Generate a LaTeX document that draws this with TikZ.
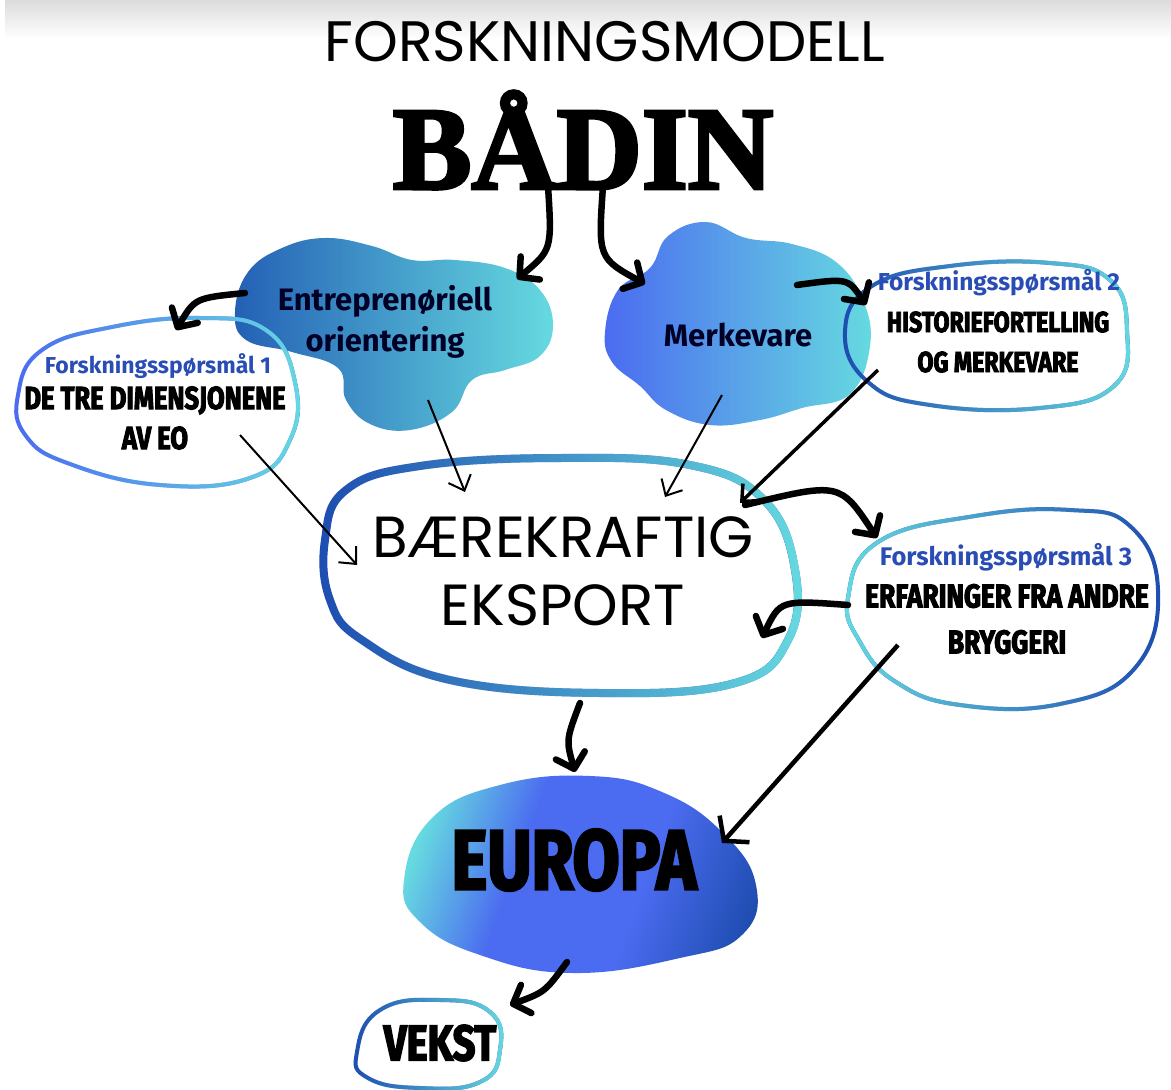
\documentclass[tikz,border=0pt]{standalone}
\usepackage{fontspec}
\setmainfont{Fira Sans}
\newfontfamily\titlefont{Poppins}
\newfontfamily\badinfont[FakeBold=3]{Liberation Serif}
\newfontfamily\heavyfont[FakeBold=3,FakeStretch=0.8]{Fira Sans}
\usetikzlibrary{arrows.meta,fadings}

\definecolor{deepblue}  {HTML}{1E4DB0}
\definecolor{violetblue}{HTML}{4B6BF0}
\definecolor{aqua}      {HTML}{66DAE0}
\definecolor{qblue}     {HTML}{2A4DB5}
\definecolor{cloudblue} {HTML}{2460B5}

\pgfdeclarehorizontalshading{europa shading}{100bp}{
  color(0bp)=(aqua); color(24bp)=(aqua); color(40bp)=(violetblue);
  color(60bp)=(violetblue); color(78bp)=(deepblue); color(100bp)=(deepblue)}

\begin{document}
\begin{tikzpicture}[x=1pt,y=-1pt]
  \useasboundingbox (0,0) rectangle (1171,1090);

  % Styles
  \tikzstyle{title text}=[font=\titlefont\fontsize{57}{60}\selectfont]
  \tikzstyle{badin text}=[font=\badinfont\bfseries\fontsize{118}{120}\selectfont]
  \tikzstyle{cloud text}=[font=\bfseries\fontsize{31}{41}\selectfont,text=black!85!blue,align=center]
  \tikzstyle{question}=[font=\bfseries\fontsize{23}{26}\selectfont,text=qblue]
  \tikzstyle{heavy text}=[font=\heavyfont\bfseries\fontsize{30}{40}\selectfont,align=center]
  \tikzstyle{main text}=[font=\titlefont\fontsize{58}{68}\selectfont,align=center]
  \tikzstyle{outline}=[line width=4pt]
  \tikzstyle{thick arrow}=[line width=6.5pt,line cap=round,-{Straight Barb[round,length=14pt,width=30pt]}]
  \tikzstyle{thin arrow}=[line width=2pt,-{Straight Barb[length=13pt,width=24pt]}]

  % Shapes
  \tikzset{
    eo cloud/.style={insert path={plot[smooth cycle,tension=0.7] coordinates {
      (235,312) (248,272) (282,248) (325,238) (372,246) (412,260) (455,260)
      (505,268) (540,290) (553,325) (540,356) (505,370) (472,380) (452,412)
      (410,430) (370,424) (346,400) (338,368) (292,352) (246,340)}}},
    brand cloud/.style={insert path={plot[smooth cycle,tension=0.7] coordinates {
      (605,332) (618,290) (650,268) (668,236) (706,222) (746,238) (792,244)
      (836,262) (863,300) (870,346) (850,394) (802,408) (760,420) (710,425)
      (666,410) (640,386) (612,362)}}},
    europa blob/.style={insert path={plot[smooth cycle,tension=0.75] coordinates {
      (404,880) (432,818) (500,785) (590,776) (662,792) (722,832) (756,885)
      (742,935) (680,958) (572,973) (480,955) (420,922)}}},
    q1 shape/.style={insert path={plot[smooth cycle,tension=0.75] coordinates {
      (18,395) (42,350) (112,327) (200,318) (266,330) (295,382) (290,440)
      (250,478) (160,485) (70,464) (26,436)}}},
    q2 shape/.style={insert path={plot[smooth cycle,tension=0.75] coordinates {
      (845,332) (872,286) (950,266) (1050,263) (1110,280) (1127,330)
      (1114,386) (1040,408) (930,405) (868,382)}}},
    q3 shape/.style={insert path={plot[smooth cycle,tension=0.75] coordinates {
      (848,598) (878,542) (975,516) (1070,510) (1130,526) (1158,590)
      (1135,668) (1060,704) (960,705) (896,682) (860,642)}}},
    main shape/.style={insert path={plot[smooth cycle,tension=0.7] coordinates {
      (325,540) (346,490) (420,466) (560,458) (690,465) (764,500) (795,570)
      (788,640) (735,683) (600,693) (450,680) (362,640) (330,600)}}},
    vekst shape/.style={insert path={plot[smooth cycle,tension=0.8] coordinates {
      (357,1052) (380,1010) (440,1000) (490,1012) (500,1050) (480,1082)
      (420,1088) (368,1078)}}}
  }

  % Top band
  \shade[top color=black!14,bottom color=white] (5,0) rectangle (1171,38);

  % Filled blobs
  \shade[left color=cloudblue,right color=aqua,eo cloud];
  \shade[left color=violetblue,right color=aqua,brand cloud];
  \shade[shading=europa shading,shading angle=-20,europa blob];

  % Outlines, dark side first then the light side faded in
  \draw[outline,violetblue,q1 shape];
  \draw[outline,aqua,path fading=west,q1 shape];
  \draw[outline,deepblue,q2 shape];
  \draw[outline,aqua,path fading=west,q2 shape];
  \draw[outline,deepblue,q3 shape];
  \draw[outline,aqua,path fading=east,q3 shape];
  \draw[line width=8pt,deepblue,main shape];
  \draw[line width=8pt,aqua,path fading=west,main shape];
  \draw[outline,deepblue,vekst shape];
  \draw[outline,aqua,path fading=west,vekst shape];

  % Texts
  \node[title text] (title) at (605,42) {FORSKNINGSMODELL};
  \node[badin text] (badin) at (583,140) {BÅDIN};
  \node[cloud text] (eo) at (385,322) {Entreprenøriell\\orientering};
  \node[cloud text] (brand) at (738,335) {Merkevare};
  \node[question] (q1 title) at (158,366) {Forskningsspørsmål 1};
  \node[heavy text,font=\heavyfont\bfseries\fontsize{32}{40}\selectfont] (q1) at (155,418) {DE TRE DIMENSJONENE\\AV EO};
  \node[question,font=\bfseries\fontsize{24.5}{26}\selectfont] (q2 title) at (999,283) {Forskningsspørsmål 2};
  \node[heavy text,font=\heavyfont\bfseries\fontsize{29}{40}\selectfont] (q2) at (998,342) {HISTORIEFORTELLING\\OG MERKEVARE};
  \node[question,font=\bfseries\fontsize{25.5}{26}\selectfont] (q3 title) at (1006,557) {Forskningsspørsmål 3};
  \node[heavy text,font=\heavyfont\bfseries\fontsize{33}{46}\selectfont] (q3) at (1007,619) {ERFARINGER FRA ANDRE\\BRYGGERI};
  \node[main text] (export) at (563,571) {BÆREKRAFTIG\\EKSPORT};
  \node[heavy text,font=\heavyfont\bfseries\fontsize{85}{88}\selectfont] (europa) at (574,860) {EUROPA};
  \node[heavy text,font=\heavyfont\bfseries\fontsize{50}{52}\selectfont] (vekst) at (440,1043) {VEKST};

  % Key Points
  \coordinate (badin foot l) at (548,186);
  \coordinate (badin foot r) at (603,186);
  \coordinate (eo in)        at (517,279);
  \coordinate (brand in)     at (645,284);
  \coordinate (eo out l)     at (245,293);
  \coordinate (q1 in)        at (176,330);
  \coordinate (brand out r)  at (797,285);
  \coordinate (q2 in)        at (866,305);
  \coordinate (q1 out)       at (240,435);
  \coordinate (export in l)  at (357,565);
  \coordinate (eo out)       at (428,400);
  \coordinate (export in a)  at (465,492);
  \coordinate (brand out)    at (722,395);
  \coordinate (export in b)  at (665,497);
  \coordinate (q2 out)       at (878,370);
  \coordinate (export in c)  at (740,503);
  \coordinate (export out r) at (745,505);
  \coordinate (q3 in)        at (877,538);
  \coordinate (q3 out l)     at (848,605);
  \coordinate (export in r)  at (762,638);
  \coordinate (export out)   at (580,703);
  \coordinate (europa in)    at (575,772);
  \coordinate (q3 out)       at (898,645);
  \coordinate (europa in r)  at (722,843);
  \coordinate (europa out)   at (567,962);
  \coordinate (vekst in)     at (510,1005);

  % Arrows
  \draw[thick arrow] (badin foot l) .. controls (552,250) .. (eo in);
  \draw[thick arrow] (badin foot r) .. controls (598,258) .. (brand in);
  \draw[thick arrow] (eo out l) .. controls (195,298) .. (q1 in);
  \draw[thick arrow] (brand out r) .. controls (848,278) .. (q2 in);
  \draw[thin arrow] (q1 out) -- (export in l);
  \draw[thin arrow] (eo out) -- (export in a);
  \draw[thin arrow] (brand out) -- (export in b);
  \draw[thin arrow,line width=3.5pt] (q2 out) -- (export in c);
  \draw[thick arrow] (export out r) .. controls (840,482) .. (q3 in);
  \draw[thick arrow] (q3 out l) .. controls (780,600) .. (export in r);
  \draw[thick arrow] (export out) .. controls (566,740) .. (europa in);
  \draw[thin arrow,line width=4.5pt,-{Straight Barb[length=16pt,width=40pt]}] (q3 out) -- (europa in r);
  \draw[thick arrow] (europa out) .. controls (545,992) .. (vekst in);
\end{tikzpicture}
\end{document}
